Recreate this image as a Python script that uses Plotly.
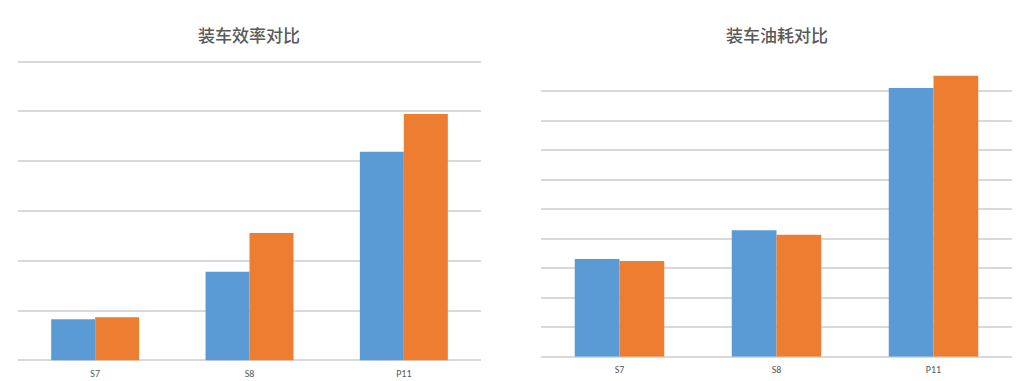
import plotly.graph_objects as go

categories = ["S7", "S8", "P11"]
eff_series1 = [0.83, 1.78, 4.19]
eff_series2 = [0.87, 2.56, 4.95]
fuel_series1 = [3.31, 4.29, 9.11]
fuel_series2 = [3.24, 4.13, 9.52]
titles = ["装车效率对比", "装车油耗对比"]

BLUE = "#5B9BD5"
ORANGE = "#ED7D31"
GRID = "#D9D9D9"
TEXT = "#595959"
FONT = "Noto Sans CJK SC"

fig = go.Figure()
bar_style = dict(marker_line_width=0, showlegend=False)
fig.add_trace(go.Bar(x=categories, y=eff_series1, marker_color=BLUE, xaxis="x", yaxis="y", **bar_style))
fig.add_trace(go.Bar(x=categories, y=eff_series2, marker_color=ORANGE, xaxis="x", yaxis="y", **bar_style))
fig.add_trace(go.Bar(x=categories, y=fuel_series1, marker_color=BLUE, xaxis="x2", yaxis="y2", **bar_style))
fig.add_trace(go.Bar(x=categories, y=fuel_series2, marker_color=ORANGE, xaxis="x2", yaxis="y2", **bar_style))

W, H = 1020, 381

def xd(a, b):
    return [a / W, b / W]

def yd(top, bottom):
    return [1 - bottom / H, 1 - top / H]

common_x = dict(showgrid=False, showline=False, zeroline=False, ticks="",
                ticklabelstandoff=5,
                tickfont=dict(family="Calibri, Carlito, Liberation Sans, sans-serif", size=10, color=TEXT),
                fixedrange=True)
common_y = dict(showgrid=True, gridcolor=GRID, gridwidth=1.5, zeroline=True,
                zerolinecolor=GRID, zerolinewidth=1.5, showticklabels=False,
                ticks="", showline=False, fixedrange=True)

# left: 6 units over 61.7..360.5 px; right: 10 units over 61.7..356.7 px
lstep = (360.5 - 61.7) / 6
rstep = (356.7 - 61.7) / 10
ext = 0.03

fig.update_layout(
    width=W, height=H,
    margin=dict(l=0, r=0, t=0, b=0),
    paper_bgcolor="white", plot_bgcolor="white",
    barmode="group", bargap=0.43, bargroupgap=0,
    xaxis=dict(domain=xd(18, 481), anchor="y", **common_x),
    yaxis=dict(domain=yd(61.7 - ext * lstep, 360.5), anchor="x", range=[0, 6 + ext], dtick=1, **common_y),
    xaxis2=dict(domain=xd(541, 1012), anchor="y2", **common_x),
    yaxis2=dict(domain=yd(61.7 - ext * rstep, 356.7), anchor="x2", range=[0, 10 + ext], dtick=1, **common_y),
    annotations=[
        dict(text=titles[0], x=249 / W, y=1 - 34 / H, xref="paper", yref="paper",
             xanchor="center", yanchor="middle",
             showarrow=False, font=dict(family=FONT, size=17, color=TEXT, weight=500)),
        dict(text=titles[1], x=777 / W, y=1 - 34 / H, xref="paper", yref="paper",
             xanchor="center", yanchor="middle",
             showarrow=False, font=dict(family=FONT, size=17, color=TEXT, weight=500)),
    ],
)

fig.write_html("out.html", config={"displayModeBar": False},
               post_script="document.body.style.margin='0';document.body.style.overflow='hidden';")
